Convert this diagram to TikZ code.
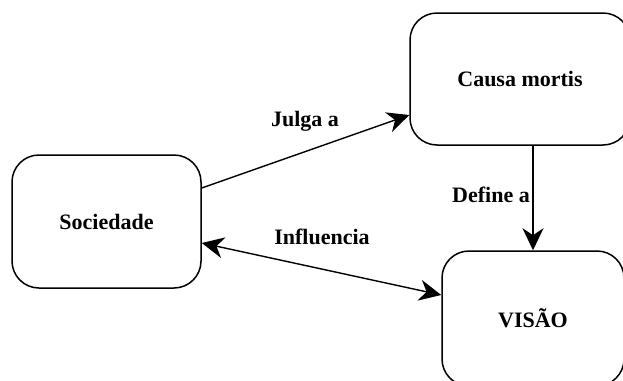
\documentclass[tikz,border=0pt]{standalone}
\usepackage{fontspec}
\setmainfont{Liberation Serif}
\usetikzlibrary{arrows.meta}
\begin{document}
\begin{tikzpicture}[x=1pt,y=-1pt,
  box/.style={draw=black,line width=1.5pt,rounded corners=27pt,fill=white,
    font=\bfseries\fontsize{22}{26}\selectfont,inner sep=0pt},
  link/.style={line width=1.4pt,-{Stealth[length=22pt,width=21pt,inset=7pt]}},
  twoway/.style={line width=1.4pt,{Stealth[length=22pt,width=21pt,inset=7pt]}-{Stealth[length=22pt,width=21pt,inset=7pt]}},
  tag/.style={font=\bfseries\fontsize{22}{26}\selectfont,inner sep=0pt}]
\useasboundingbox (0,0) rectangle (623,380);
\node[box,minimum width=189pt,minimum height=133pt] (soc) at (106.5,221.5) {Sociedade};
\node[box,minimum width=220pt,minimum height=132pt] (cm) at (520,79) {Causa mortis};
\node[box,minimum width=182pt,minimum height=135pt] (vis) at (533,318.5) {VISÃO};
\draw[link] ([yshift=33.5pt]soc.east) -- ([yshift=-36pt]cm.west);
\draw[twoway] ([yshift=-21.5pt]soc.east) -- ([yshift=23.5pt]vis.west);
\draw[link] (vis.north |- cm.south) -- (vis.north);
\node[tag] (l1) at (305,121) {Julga a};
\node[tag] (l2) at (322,237) {Influencia};
\node[tag] (l3) at (491,195) {Define a};
\end{tikzpicture}
\end{document}
